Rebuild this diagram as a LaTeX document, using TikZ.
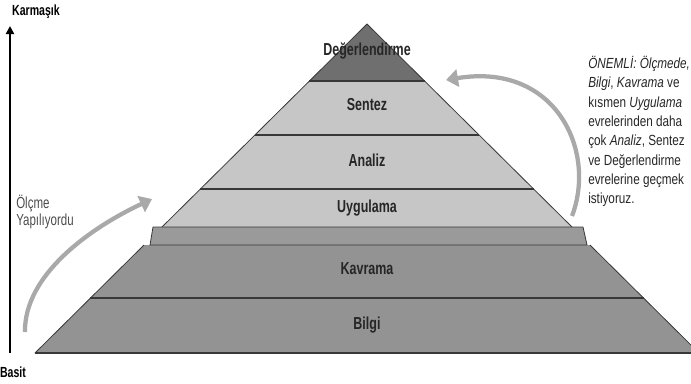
\documentclass[tikz,border=0pt]{standalone}
\usepackage{fontspec}
\setmainfont{Liberation Sans}[FakeStretch=0.8]
\newfontfamily\dar{Liberation Sans}[FakeStretch=0.72]
\usetikzlibrary{arrows.meta}
\definecolor{ust}{HTML}{6F6F6F}
\definecolor{acik}{HTML}{C6C6C6}
\definecolor{orta}{HTML}{9A9A9A}
\definecolor{alt}{HTML}{939393}
\definecolor{cizgi}{HTML}{383838}
\definecolor{okrenk}{HTML}{A9A9A9}
\begin{document}
\begin{tikzpicture}[x=0.75pt, y=-0.75pt,
  katman/.style={draw=cizgi, line width=0.6pt, line join=round},
  ayrac/.style={draw=cizgi, line width=1.6pt},
  etiket/.style={font=\dar\bfseries\fontsize{13}{15}\selectfont, text=black!85, text height=9.5pt, text depth=2.5pt},
  donus/.style={draw=okrenk, line width=3.2pt, -{Triangle[width=13pt,length=9pt]}}]
  \useasboundingbox (0,0) rectangle (691,383);
  \clip (0,0) rectangle (691,383);
  \fill[ust] (367,24) -- (424.6,81) -- (309.4,81) -- cycle;
  \fill[acik] (309.4,81) -- (424.6,81) -- (572,227) -- (162,227) -- cycle;
  \fill[alt] (144,245) -- (590,245) -- (699,353) -- (35,353) -- cycle;
  \draw[katman] (162,227) -- (367,24) -- (572,227);
  \draw[katman] (144,245) -- (35,353);
  \draw[katman] (590,245) -- (699,353);
  \filldraw[fill=orta, katman] (153,227) -- (583,227) -- (587,245) -- (150,245) -- cycle;
  \draw[ayrac] (309.4,81) -- (424.6,81);
  \draw[ayrac] (255,135) -- (479,135);
  \draw[ayrac] (200.3,189) -- (533.7,189);
  \draw[ayrac] (90.3,298) -- (643.7,298);
  \draw[ayrac] (35,353) -- (699,353);
  \node[etiket] at (367,51) (deg) {Değerlendirme};
  \node[etiket] at (367,106) (sentez) {Sentez};
  \node[etiket] at (367,162) (analiz) {Analiz};
  \node[etiket] at (367,208) (uyg) {Uygulama};
  \node[etiket] at (367,270) (kavrama) {Kavrama};
  \node[etiket] at (367,325) (bilgi) {Bilgi};
  \node[font=\dar\bfseries\fontsize{11}{12}\selectfont] at (36,12) (karmasik) {Karmaşık};
  \node[font=\dar\bfseries\fontsize{11}{12}\selectfont] at (13,372) (basit) {Basit};
  \coordinate (axbot) at (10,353);
  \coordinate (axtop) at (10,26);
  \draw[line width=1.5pt, -{Triangle[width=6pt,length=6pt]}] (axbot) -- (axtop);
  \node[anchor=north west, align=left, inner sep=0pt, font=\dar\fontsize{12}{13}\selectfont, text=black!70] at (16,195) (olcme) {Ölçme\\Yapılıyordu};
  \node[anchor=north west, align=left, inner sep=0pt, font=\fontsize{11}{14.5}\selectfont, text=black!85] at (588,56) (onemli) {\textit{ÖNEMLİ: Ölçmede,}\\\textit{Bilgi}, \textit{Kavrama} ve\\kısmen \textit{Uygulama}\\evrelerinden daha\\çok \textit{Analiz}, Sentez\\ve Değerlendirme\\evrelerine geçmek\\istiyoruz.};
  \coordinate (solbas) at (25,332);
  \coordinate (solson) at (152,199);
  \draw[donus] (solbas) .. controls (24,275) and (90,228) .. (solson);
  \coordinate (sagbas) at (572,216);
  \coordinate (sagson) at (446,80);
  \draw[donus] (sagbas) .. controls (597,150) and (555,62) .. (sagson);
\end{tikzpicture}
\end{document}
